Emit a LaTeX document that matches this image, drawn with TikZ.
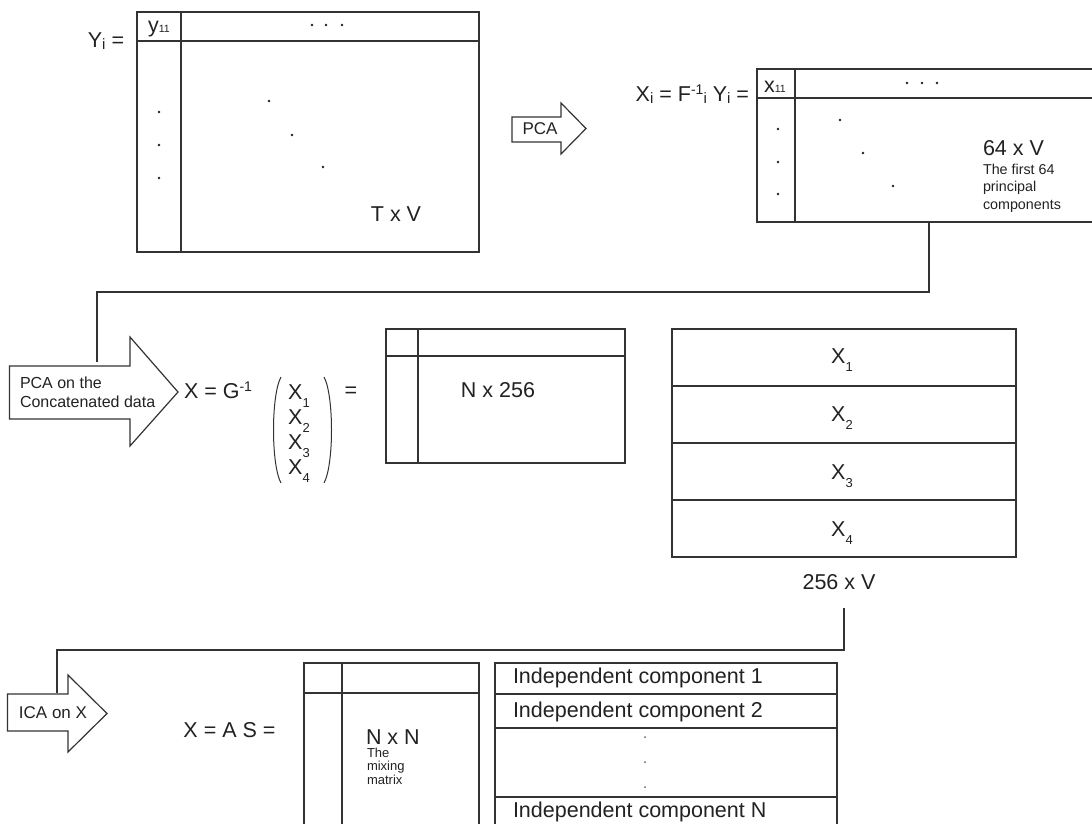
\documentclass[tikz,border=0pt]{standalone}
\usepackage{fontspec}
\setmainfont{Liberation Sans}
\usetikzlibrary{calc}
\definecolor{lin}{HTML}{333333}
\definecolor{txt}{HTML}{222222}
\newcommand{\mysubl}[1]{\raisebox{-2pt}{\fontsize{15}{15}\selectfont #1}}
\newcommand{\mysupl}[1]{\raisebox{7pt}{\fontsize{14}{14}\selectfont #1}}
\newcommand{\mysubx}[1]{\raisebox{-8.5pt}{\fontsize{13}{13}\selectfont #1}}
\newcommand{\mytiny}[1]{{\fontsize{10.5}{10.5}\selectfont #1}}
\begin{document}
\begin{tikzpicture}[x=1pt,y=-1pt,
  every node/.style={inner sep=0pt, outer sep=0pt, text=txt},
  big/.style={font=\fontsize{21.5}{24}\selectfont},
  small/.style={font=\fontsize{14.3}{17.5}\selectfont, align=left},
  tinytext/.style={font=\fontsize{13}{13.5}\selectfont, align=left},
  ln/.style={draw=lin, line width=1.2pt},
  box/.style={ln, rectangle, anchor=north west},
  dot/.style={circle, fill=txt, minimum size=2.8pt},
  sdot/.style={circle, fill=txt!70, minimum size=2pt},
  arrowshape/.style={ln, fill=white, line join=miter}
]
\useasboundingbox (0,0) rectangle (1092,823);
\fill[white] (0,0) rectangle (1092,823);
\clip (0,0) rectangle (1092,823);

% ---------- Y_i matrix ----------
\node[box, minimum width=342pt, minimum height=240pt] (Y) at (137,12) {};
\draw[ln] (137,41) -- (479,41);
\draw[ln] (181,12) -- (181,252);
\node[big, anchor=base] (Ylab) at (106,47) {Y\mysubl{i} =};
\node[big, anchor=base] (y11) at (159,32.5) {y\mytiny{11}};
\foreach \px/\py [count=\i] in {312/25,326/25,342/25,159/112,159/145,159/178,269/101,292/135,323/167}
  \node[dot] (yd\i) at (\px,\py) {};
\node[big] (TxV) at (396,214) {T x V};

% ---------- PCA arrow ----------
\draw[arrowshape] (512,117) -- (561,117) -- (561,103) -- (586,128.5) -- (561,154) -- (561,142) -- (512,142) -- cycle;
\node[font=\fontsize{17}{17}\selectfont] (pca) at (540,129) {PCA};

% ---------- X_i matrix ----------
\node[big, anchor=base east] (Xeq) at (749,101) {X\mysubl{i} = F\mysupl{-1}\mysubl{i} Y\mysubl{i} =};
\node[box, minimum width=345pt, minimum height=153pt] (X) at (757,69) {};
\draw[ln] (757,98) -- (1102,98);
\draw[ln] (795,69) -- (795,222);
\node[big, anchor=base] (x11) at (775,92) {x\mytiny{11}};
\foreach \px/\py [count=\i] in {907/83,922/83,937/83,778/129,778/162,778/194,840/120,863/153,893/186}
  \node[dot] (xd\i) at (\px,\py) {};
\node[big, anchor=west] (x64) at (983,148) {64 x V};
\node[small, anchor=north west] (first) at (983,164) {The first 64\\principal\\components};

% ---------- connector 1 ----------
\coordinate (c1s) at ($(X.south west)+(172,0)$);
\coordinate (a2top) at (97,362);
\draw[ln] (c1s) -- (c1s |- 0,292) -| (a2top);

% ---------- PCA on concatenated data arrow ----------
\draw[arrowshape] (9.5,366) -- (130,366) -- (130,337) -- (178,392) -- (130,446) -- (130,419) -- (9.5,419) -- cycle;
\node[font=\fontsize{16}{19}\selectfont, align=left, anchor=west] (pcacat) at (20,392.5) {PCA on the\\Concatenated data};

\node[big, anchor=base west] (Xg) at (184,398) {X = G\mysupl{-1}};
\draw[ln, line width=1pt] (281,377) .. controls (271,395) and (271,465) .. (281,483);
\draw[ln, line width=1pt] (324,377) .. controls (334,395) and (334,465) .. (324,483);
\foreach \py [count=\i] in {399,424,449,474}
  \node[big, anchor=base] (px\i) at (299,\py) {X\mysubx{\i}};
\node[big] (eq1) at (351,392) {=};

\node[box, minimum width=239pt, minimum height=134pt] (N256) at (386,329) {};
\draw[ln] (386,356) -- (625,356);
\draw[ln] (418,329) -- (418,463);
\node[big] (n256) at (498,390) {N x 256};

% ---------- stacked X ----------
\node[box, minimum width=344pt, minimum height=228pt] (S) at (672,329) {};
\draw[ln] (672,386) -- (1016,386);
\draw[ln] (672,443) -- (1016,443);
\draw[ln] (672,500) -- (1016,500);
\foreach \py [count=\i] in {363,421,479,536}
  \node[big, anchor=base] (sx\i) at (842,\py) {X\mysubx{\i}};
\node[big] (l256) at (839,582) {256 x V};

% ---------- connector 2 ----------
\coordinate (c2s) at (844,608);
\coordinate (a3top) at (57,693);
\draw[ln] (c2s) -- (844,650) -| (a3top);

% ---------- ICA arrow ----------
\draw[arrowshape] (7.5,694) -- (68,694) -- (68,675) -- (107,713.5) -- (68,752) -- (68,731) -- (7.5,731) -- cycle;
\node[font=\fontsize{17}{17}\selectfont] (ica) at (53,713) {ICA on X};

\node[big] (xas) at (229.5,730) {X = A S =};

\node[box, minimum width=175pt, minimum height=200pt] (NN) at (304,663) {};
\draw[ln] (304,693) -- (479,693);
\draw[ln] (342,663) -- (342,863);
\node[big, anchor=west] (nxn) at (366,737) {N x N};
\node[tinytext, anchor=north west] (mix) at (367,748) {The\\mixing\\matrix};

\node[box, minimum width=342pt, minimum height=200pt] (IC) at (495,663) {};
\draw[ln] (495,694) -- (837,694);
\draw[ln] (495,728) -- (837,728);
\draw[ln] (495,797) -- (837,797);
\node[big, anchor=west] (ic1) at (513,678) {Independent component 1};
\node[big, anchor=west] (ic2) at (513,712) {Independent component 2};
\node[big, anchor=west] (icn) at (513,812) {Independent component N};
\foreach \py [count=\i] in {737,762,787}
  \node[sdot] (icd\i) at (645,\py) {};
\end{tikzpicture}
\end{document}
